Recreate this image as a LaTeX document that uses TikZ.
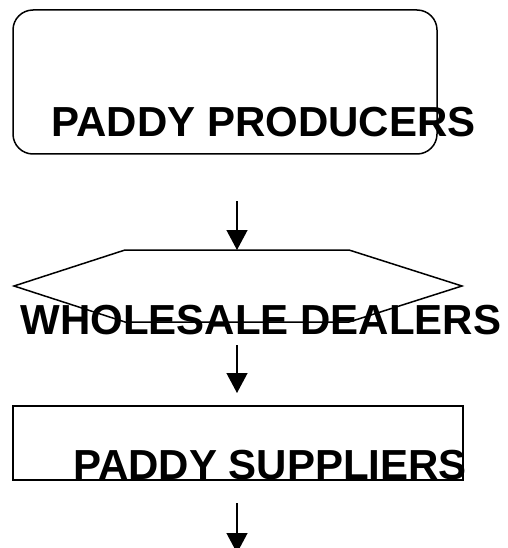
\documentclass[tikz,border=0pt]{standalone}
\usepackage{fontspec}
\setmainfont{Liberation Sans}
\usetikzlibrary{arrows.meta}
\begin{document}
\begin{tikzpicture}[x=1pt,y=-1pt,
  shapeline/.style={draw=black,line width=1.5pt},
  flowarrow/.style={line width=1.3pt,-{Triangle[length=20pt,width=21pt]}},
  label/.style={font=\fontsize{42}{42}\selectfont\bfseries,inner sep=0pt,anchor=base}]
\useasboundingbox (0,0) rectangle (507,548);
% shapes
\node[shapeline,rounded corners=20pt,minimum width=424pt,minimum height=144pt,inner sep=0pt] (prod) at (225,82) {};
\coordinate (hexN) at (237,250);
\draw[shapeline] (125,250) -- (349,250) -- (462,286) -- (349,322) -- (125,322) -- (14,286) -- cycle;
\node[shapeline,minimum width=450pt,minimum height=74pt,inner sep=0pt] (supp) at (238,443) {};
% texts
\node[label] (tprod) at (263.5,137) {PADDY PRODUCERS};
\node[label] (twhole) at (261,334) {WHOLESALE DEALERS};
\node[label] (tsupp) at (270,479) {PADDY SUPPLIERS};
% arrows
\coordinate (a1s) at (237,201);
\coordinate (a2s) at (237,345);
\coordinate (a2e) at (237,393);
\coordinate (a3s) at (237,503);
\coordinate (a3e) at (237,553);
\draw[flowarrow] (a1s) -- (hexN);
\draw[flowarrow] (a2s) -- (a2e);
\draw[flowarrow] (a3s) -- (a3e);
\end{tikzpicture}
\end{document}
